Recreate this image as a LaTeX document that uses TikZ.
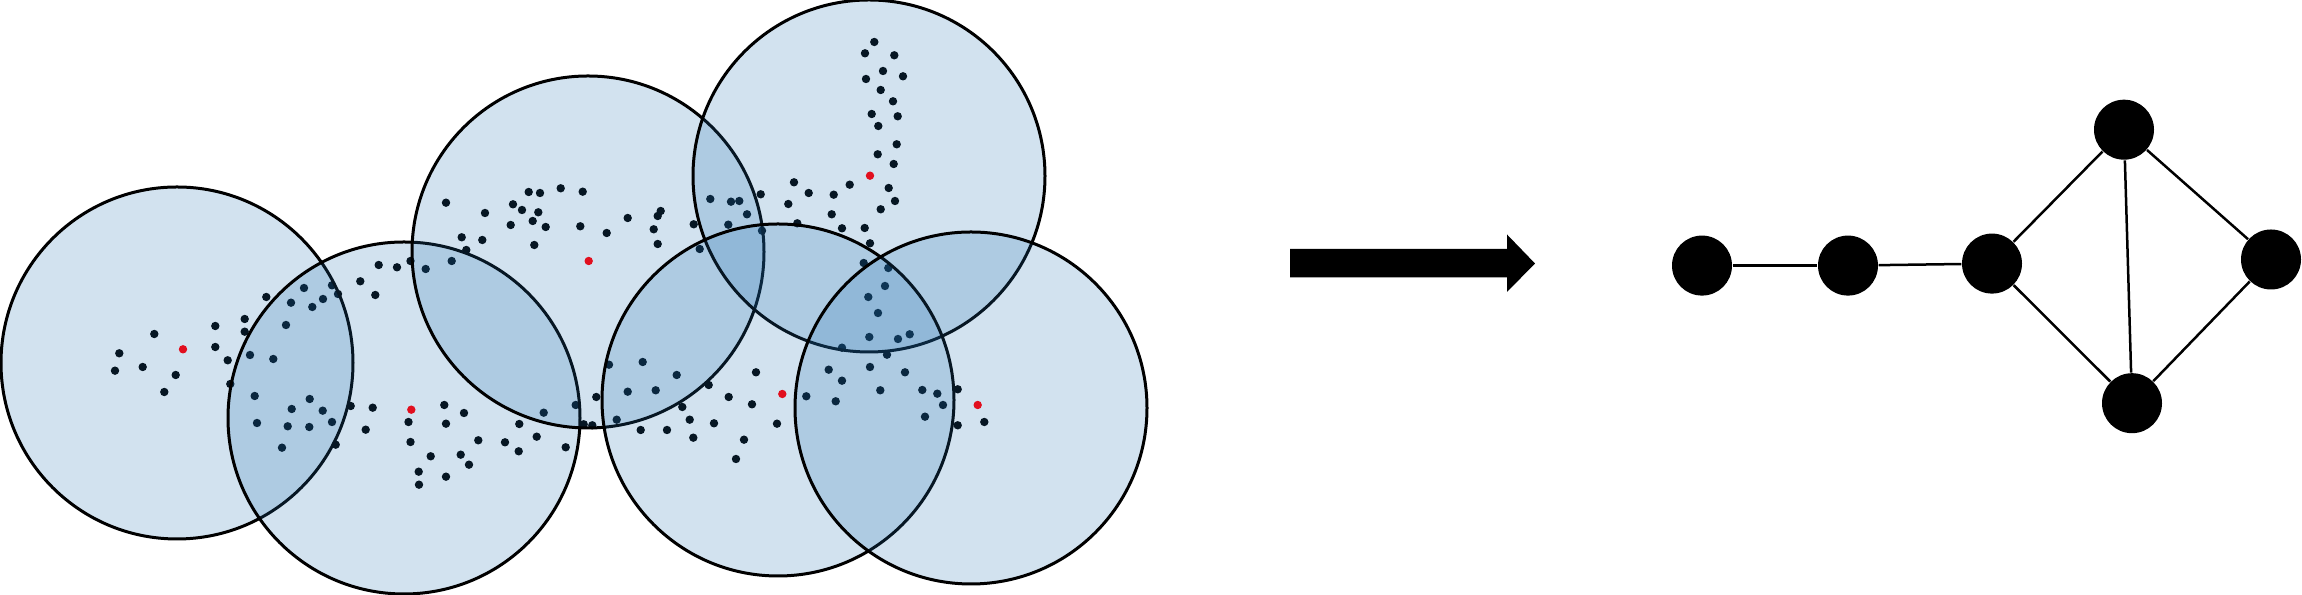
\documentclass[tikz,border=0pt]{standalone}
\definecolor{cfill}{RGB}{30,110,175}
\definecolor{reddot}{RGB}{225,15,30}
\begin{document}
\begin{tikzpicture}[x=0.3pt,y=-0.3pt,
  zone/.style={draw=black,line width=0.9pt,fill=cfill,fill opacity=0.2},
  blackdot/.style={fill=black},
  redpt/.style={fill=reddot},
  vtx/.style={circle,fill=black,inner sep=0pt,minimum size=18pt},
  link/.style={line width=0.75pt,draw=black}]
\useasboundingbox (0,0) rectangle (2302,595);
% data points (below the translucent discs)
\foreach \x/\y in {154.3/334,119.3/353.3,115/370.7,142.7/367,175.7/375,164.3/392,215.3/326,215.3/347,227.7/360.3,244.7/319,244.7/331.7,230.3/384,250/355,273.3/359,286/325,266.3/297,291/302.7,304/288,312.3/307,323/299,332/285.3,338/294,360.3/281.3,375.3/295,378.7/265,397/267.3,410.5/261,254.7/396,257/423,291.7/409,309.7/399,322.7/410.7,287.7/426.3,309.3/427,332/422,282/447.7,335.7/444.7,350.7/406,372.7/407.7,365.7/429.7,408.5/422,410.5/442}
  \fill[blackdot] (\x,\y) circle[radius=4.2];
\foreach \x/\y in {446/202.7,485/213,528.7/192,540/193,560.7/188.3,582.7/191.7,513/204.3,522/210,538.3/212.3,532.7/221,510.7/225,545.7/227,580.3/226.3,606.7/233,627.7/218,660.7/211,657.7/216,653.7/229.3,657.7/244,693.7/224.3,710.3/199,699.7/249,461.7/237.3,482.3/240,466.3/250,534.3/245,425.7/269,451.7/261,609/364.7,642.7/362,676.7/375,708.7/385,627.7/391.7,655.7/390.3,596.3/397,575.7/405,543.7/412.7,682.3/407,689.7/419.7,714/423.3,693.3/437.7,667/430,640.7/430,616.7/419.7,583.7/424.3,592.3/425.3,444.3/405,464/413,446/423.7,519.3/424,536.7/436.7,478.3/440.3,505/442.3,518.7/451.3,565.7/447.3,430.7/456.3,460.7/454.7,469/464.7,418.7/471.7,419/484.7,446/476.7}
  \fill[blackdot] (\x,\y) circle[radius=4.2];
\foreach \x/\y in {877.7/154.3,893.7/164,888.7/188,895/201,880.7/209.3,794/182.3,808.7/193,833.7/194.7,849.7/184.7,831.7/214.3,760.7/194.3,788.3/204,731/201.7,739.3/201,747/214.3,728.3/224.7,762/230.7,797.3/223.3,842/228.3,864.7/228,870/243.3,863.7/263,888.3/268,885/286,868.3/297,878/313,869.3/337,898/339,909.7/334.3,842/347.7,887/354.7,756/372.3,828.7/369.7,870/367,905/372.3,842/380.7,728.7/397,752/404.3,806.3/396.3,835.7/401.3,880.3/390.3,922.3/390,937.3/393.7,943/405,957.7/389.3,925/416.7,957.7/425.3,984.3/422,777/423.7,744/439.7,736/459}
  \fill[blackdot] (\x,\y) circle[radius=4.2];
\foreach \x/\y in {874.3/42,865/53.3,894.3/55.3,883/71,866/79,903/76.3,880.7/90,893/101.3,871.7/114,897.7/116.3,878.3/126,896.7/144.3}
  \fill[blackdot] (\x,\y) circle[radius=4.2];
% translucent discs
\foreach \x/\y in {177/363,404/418,588/252,869/176,778/400,971/408}
  \filldraw[zone] (\x,\y) circle[radius=176];
% cluster centres
\foreach \x/\y in {183/349.3,411.3/409.7,588.7/261,870/175.7,782.3/394,977.7/405}
  \fill[redpt] (\x,\y) circle[radius=4.2];
% block arrow
\fill[black] (1290,249) -- (1507,249) -- (1507,234.5) -- (1535,263.5) -- (1507,292) -- (1507,277.5) -- (1290,277.5) -- cycle;
% graph
\node[vtx] (n1) at (1702,265.6) {};
\node[vtx] (n2) at (1848,265.6) {};
\node[vtx] (n3) at (1992,263.6) {};
\node[vtx] (n4) at (2124,129.7) {};
\node[vtx] (n5) at (2271,259.5) {};
\node[vtx] (n6) at (2132,403.2) {};
\draw[link] (n1) -- (n2);
\draw[link] (n2) -- (n3);
\draw[link] (n3) -- (n4);
\draw[link] (n3) -- (n6);
\draw[link] (n4) -- (n5);
\draw[link] (n4) -- (n6);
\draw[link] (n5) -- (n6);
\end{tikzpicture}
\end{document}
